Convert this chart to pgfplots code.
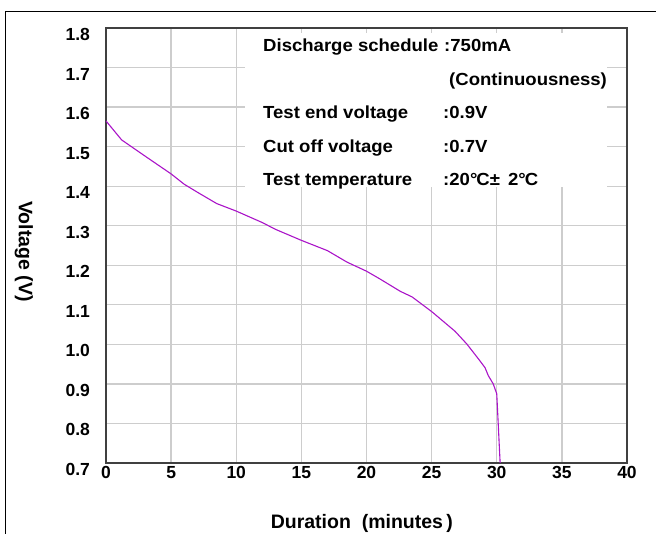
\documentclass[border=0pt]{standalone}
\usepackage{fontspec}
\setmainfont{Liberation Sans}
\newfontfamily\widefont{Liberation Sans}[FakeStretch=1.06]
\usepackage{pgfplots}
\pgfplotsset{compat=1.18}

\definecolor{curve}{RGB}{170,20,200}
\definecolor{gridc}{RGB}{205,205,205}

\begin{document}
\begin{tikzpicture}[x=1pt,y=1pt]
\useasboundingbox (0,0) rectangle (656,534);
% outer frame (cut by the picture on the right and at the bottom)
\draw[line width=1pt] (656,522.5) -- (5,522.5) -- (5,0);

\begin{axis}[
    at={(106pt,71pt)}, anchor=south west,
    scale only axis,
    width=521pt, height=435pt,
    xmin=0, xmax=40,
    ymin=0.7, ymax=1.8,
    xtick={0,5,10,15,20,25,30,35,40},
    ytick={0.7,0.8,0.9,1.0,1.1,1.2,1.3,1.4,1.5,1.6,1.7,1.8},
    grid=major,
    major grid style={draw=gridc, line width=1.3pt},
    major tick length=0pt,
    axis line style={draw=black!75, line width=1.1pt},
    /pgf/number format/assume math mode=true,
    tick label style={font=\fontsize{17.5}{20}\selectfont\bfseries},
    yticklabel style={/pgf/number format/.cd, fixed, fixed zerofill, precision=1,
        /tikz/.cd, xshift=-12.5pt, yshift=-6.5pt},
    xlabel={Duration\ \ (minutes\,)},
    ylabel={Voltage (V)},
    label style={font=\fontsize{19.5}{22}\selectfont\bfseries},
    xlabel style={at={(axis description cs:0.491,-0.1517)}, anchor=base},
    ylabel style={at={(axis description cs:-0.1574,0.486)}, rotate=180, anchor=center},
]
\addplot[curve, line width=1.1pt] coordinates {
    (0,1.565) (1.2,1.517) (3,1.476) (5,1.431) (6,1.405) (7,1.385)
    (8.5,1.356) (10,1.337) (12,1.308) (13,1.291) (15,1.263) (17,1.237)
    (18.5,1.208) (20,1.185) (21,1.166) (22.6,1.134) (23.5,1.120)
    (25,1.083) (26.8,1.033) (27.7,1.001) (28.6,0.963) (29.1,0.941)
    (29.35,0.921) (29.73,0.900) (30.0,0.875) (30.26,0.700)
};
% white panel behind the test conditions
\fill[white] (axis cs:10.67,1.398) rectangle (axis cs:38.45,1.787);
\end{axis}

\begin{scope}[every node/.style={anchor=base west, inner sep=0pt,
    font=\widefont\fontsize{17.5}{20}\selectfont\bfseries}]
\node at (263,482.3) {Discharge schedule};
\node at (444,482.3) {:750mA};
\node at (449,448.8) {(Continuousness)};
\node at (263,415.2) {Test end voltage};
\node at (443,415.2) {:0.9V};
\node at (263,381.7) {Cut off voltage};
\node at (443,381.7) {:0.7V};
\node at (263,348.2) {Test temperature};
\node at (443,348.2) {:20°\kern-1ptC±\ \,2°\kern-1ptC};
\end{scope}
\end{tikzpicture}
\end{document}
